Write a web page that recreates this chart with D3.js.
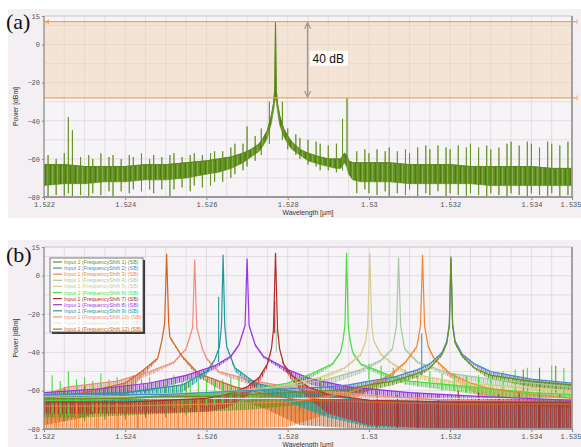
<!DOCTYPE html>
<html><head><meta charset="utf-8">
<script src="https://cdn.jsdelivr.net/npm/d3@7"></script>
<style>body{margin:0;background:#fff}svg{display:block}</style>
</head><body>
<svg id="c" width="581" height="447"></svg>
<script>
// ---------- shared axis data ----------
const xDomain = [1.522, 1.535];
const yDomain = [-80, 15];
const xTickValues = [1.522, 1.524, 1.526, 1.528, 1.530, 1.532, 1.534, 1.535];
const yTickValues = [15, 0, -20, -40, -60, -80];

// ---------- panel (a) ----------
const aBandWl = [1.522,1.5225,1.523,1.5235,1.524,1.5245,1.525,1.5255,1.526,1.5263,1.5266,1.5269,1.5271,1.5273,1.5274,1.5275,1.5276,1.52765,1.52768,1.5277,1.52772,1.52775,1.5278,1.5279,1.528,1.5281,1.5283,1.5285,1.5288,1.529,1.5292,1.5293,1.5294,1.52945,1.5295,1.5296,1.5298,1.530,1.5305,1.531,1.5315,1.532,1.5325,1.533,1.5335,1.534,1.5345,1.535];
const aBandHi = [-63,-63,-64,-64,-64,-63,-63,-62,-61,-60,-59,-57,-55,-52,-49,-45,-37,-31,-24,12,-24,-31,-37,-44,-48,-51,-55,-57,-59,-60,-60,-60,-57,-58,-61,-62,-62,-62,-62,-63,-63,-63,-64,-64,-64,-64,-65,-65];
const aBandLo = [-74,-73,-73,-72,-72,-71,-71,-70,-68,-67,-65,-62,-59,-56,-53,-49,-41,-35,-30,-28,-30,-35,-42,-48,-52,-55,-58,-61,-63,-64,-65,-65,-62,-64,-68,-71,-72,-72,-72,-73,-73,-73,-73,-74,-74,-74,-74,-74];
const aSpikeWl  = [1.5221,1.5223,1.5225,1.5226,1.5227,1.5229,1.5231,1.5232,1.5234,1.5236,1.5237,1.5239,1.5241,1.5242,1.5244,1.5246,1.5247,1.5249,1.5251,1.5252,1.5254,1.5256,1.5257,1.5259,1.5261,1.5262,1.5264,1.5266,1.5267,1.5269,1.5270,1.5272,1.52735,1.52755,1.52787,1.5280,1.5282,1.5283,1.5285,1.5287,1.5288,1.5290,1.5292,1.52935,1.52946,1.5297,1.5299,1.5300,1.5302,1.5304,1.5305,1.5307,1.5309,1.5310,1.5312,1.5314,1.5315,1.5317,1.5319,1.5320,1.5322,1.5324,1.5325,1.5327,1.5329,1.5330,1.5332,1.5334,1.5335,1.5337,1.5339,1.5340,1.5342,1.5344,1.5345,1.5347,1.5349];
const aSpikeTop = [-58,-60,-57,-38,-45,-59,-58,-60,-57,-59,-58,-60,-58,-59,-57,-60,-58,-59,-58,-57,-59,-58,-57,-58,-57,-56,-56,-54,-52,-52,-43,-48,-44,-30,-30,-44,-47,-49,-50,-51,-52,-53,-52,-39,-28,-56,-55,-57,-55,-56,-54,-56,-55,-57,-54,-53,-55,-53,-54,-55,-53,-54,-52,-54,-53,-55,-54,-52,-51,-53,-51,-52,-54,-51,-52,-53,-51];
const aSpikeLow = [-80,-79,-80,-78,-80,-79,-80,-78,-79,-77,-80,-77,-78,-76,-77,-76,-78,-76,-80,-76,-75,-77,-74,-75,-74,-72,-72,-70,-68,-66,-64,-61,-58,-52,-50,-55,-58,-60,-63,-64,-66,-66,-67,-66,-64,-78,-76,-78,-79,-77,-80,-78,-79,-76,-80,-78,-79,-77,-80,-78,-79,-80,-78,-79,-80,-78,-79,-80,-78,-79,-80,-78,-79,-80,-78,-80,-79];
const aRefLevels = [12, -28];          // dBm, orange marker lines
const aDeltaWl = 1.52849;              // where the 40 dB arrow sits
const aDeltaLabel = "40 dB";

// ---------- panel (b) ----------
const bNames = [1,2,3,4,5,6,7,8,9,10,11,12].map(i => `Input 1 (FrequencyShift ${i}) (SB)`);
const bColors = ["#6b8e23","#4b88cc","#f08535","#a6c9a2","#d6cb8c","#47dd3c","#b52a2a","#9b32e6","#22999a","#f48a7c","#e2e2e2","#d2651f"];
// each point: [wavelength µm, upper dBm, lower dBm]
const bS1 = [[1.522,-64,-74],[1.523,-64,-74],[1.524,-64,-73],[1.525,-63,-72],[1.526,-63,-71],[1.527,-62,-70],[1.528,-61,-68],[1.529,-60,-66],[1.5295,-59,-63],[1.530,-57,-60],[1.5306,-55,-57],[1.5312,-51,-53],[1.5315,-48,-49],[1.5318,-41,-42],[1.53192,-35,-36],[1.53198,-26,-27],[1.53202,10,10],[1.53206,-26,-27],[1.53212,-35,-36],[1.5323,-42,-43],[1.5326,-48,-49],[1.5329,-51,-53],[1.533,-52,-54],[1.534,-55,-58],[1.535,-57,-60]];
const bS2 = [[1.522,-62,-70],[1.523,-62,-70],[1.524,-62,-69],[1.525,-62,-68],[1.526,-61,-67],[1.527,-60,-66],[1.528,-59,-64],[1.529,-58,-62],[1.5295,-57,-60],[1.530,-55,-57],[1.5306,-53,-55],[1.5312,-49,-51],[1.5315,-46,-47],[1.5318,-40,-41],[1.53192,-34,-35],[1.53198,-25,-26],[1.53202,9,9],[1.53206,-25,-26],[1.53212,-34,-35],[1.5323,-41,-42],[1.5326,-46,-47],[1.5329,-49,-51],[1.533,-50,-52],[1.534,-54,-56],[1.535,-56,-58]];
const bS3 = [[1.522,-68,-80],[1.524,-68,-80],[1.526,-67,-80],[1.528,-66,-79],[1.529,-63,-72],[1.5295,-61,-66],[1.530,-57,-60],[1.5305,-52,-54],[1.5309,-45,-46],[1.53118,-37,-38],[1.53127,-26,-27],[1.53132,11,11],[1.53137,-26,-27],[1.53146,-37,-38],[1.5316,-43,-44],[1.532,-51,-53],[1.5325,-56,-60],[1.533,-59,-66],[1.534,-62,-72],[1.535,-64,-75]];
const bS4 = [[1.522,-63,-68],[1.524,-62,-67],[1.526,-61,-66],[1.528,-58,-62],[1.529,-54,-57],[1.5298,-49,-51],[1.5303,-44,-45],[1.53058,-38,-39],[1.53068,-26,-27],[1.53073,9.5,9.5],[1.53078,-26,-27],[1.53088,-38,-39],[1.5312,-45,-46],[1.532,-51,-53],[1.533,-54,-57],[1.534,-56,-60],[1.535,-58,-62]];
const bS5 = [[1.522,-64,-70],[1.524,-63,-68],[1.526,-61,-66],[1.527,-60,-64],[1.528,-57,-60],[1.5288,-53,-55],[1.5294,-48,-49],[1.5298,-41,-42],[1.52992,-34,-35],[1.52997,-26,-27],[1.53002,12,12],[1.53007,-26,-27],[1.53012,-34,-35],[1.5303,-41,-42],[1.5306,-46,-47],[1.531,-51,-53],[1.532,-55,-58],[1.533,-57,-61],[1.535,-60,-65]];
const bS6 = [[1.522,-65,-72],[1.523,-65,-72],[1.524,-64,-71],[1.525,-63,-70],[1.526,-62,-69],[1.527,-60,-65],[1.528,-56,-58],[1.5286,-51,-53],[1.5291,-46,-47],[1.5293,-40,-41],[1.52936,-34,-35],[1.52941,-26,-27],[1.52945,12,12],[1.52949,-26,-27],[1.52954,-34,-35],[1.5296,-40,-41],[1.5298,-46,-47],[1.5305,-52,-54],[1.531,-55,-57],[1.532,-57,-60],[1.533,-59,-63],[1.534,-61,-65],[1.535,-62,-67]];
const bS7 = [[1.522,-66,-72],[1.524,-66,-72],[1.526,-64,-71],[1.5265,-62,-69],[1.527,-58,-63],[1.5273,-53,-56],[1.5275,-46,-48],[1.5276,-38,-39],[1.52765,-28,-29],[1.5277,12,12],[1.52775,-28,-29],[1.5278,-38,-39],[1.5279,-46,-48],[1.5281,-52,-55],[1.5285,-58,-64],[1.529,-62,-72],[1.530,-65,-78],[1.532,-66,-80],[1.534,-66,-80],[1.535,-66,-80]];
const bS8 = [[1.522,-61,-65],[1.5234,-59,-63],[1.5246,-56,-60],[1.5255,-52,-55],[1.5262,-47,-49],[1.5266,-42,-43],[1.5268,-36,-37],[1.52695,-26,-27],[1.527,9,9],[1.52705,-26,-27],[1.5272,-36,-37],[1.5274,-42,-43],[1.528,-49,-51],[1.5286,-54,-57],[1.5295,-58,-61],[1.531,-61,-64],[1.5327,-63,-67],[1.535,-65,-69]];
const bS9 = [[1.522,-62,-68],[1.524,-61,-67],[1.5254,-57,-61],[1.526,-50,-52],[1.5262,-44,-45],[1.52632,-37,-38],[1.52637,-26,-27],[1.52641,11,11],[1.52645,-26,-27],[1.5265,-37,-38],[1.5267,-48,-50],[1.5272,-56,-59],[1.528,-60,-66],[1.529,-63,-74],[1.530,-65,-79],[1.532,-66,-80],[1.535,-66,-80]];
const bS10 = [[1.522,-62,-66],[1.5226,-58,-62],[1.5238,-55,-58],[1.5246,-50,-52],[1.5252,-45,-46],[1.5255,-38,-39],[1.52566,-27,-28],[1.52571,8.5,8.5],[1.52576,-27,-28],[1.5259,-38,-39],[1.526,-43,-44],[1.5263,-50,-51],[1.5272,-55,-58],[1.528,-58,-62],[1.5287,-60,-66],[1.5303,-63,-72],[1.532,-65,-74],[1.535,-66,-76]];
const bS11 = [[1.522,-64,-72],[1.528,-64,-72],[1.535,-64,-72]];
const bS12 = [[1.522,-64,-78],[1.523,-61,-74],[1.524,-56,-64],[1.5244,-50,-53],[1.5248,-43,-44],[1.5249,-34,-35],[1.52497,-25,-26],[1.52502,11.5,11.5],[1.52507,-25,-26],[1.5251,-32,-33],[1.5254,-42,-43],[1.5258,-51,-53],[1.5267,-58,-64],[1.5275,-62,-70],[1.5283,-65,-78],[1.530,-66,-80],[1.532,-67,-80],[1.535,-67,-80]];
const bSeries = [bS1,bS2,bS3,bS4,bS5,bS6,bS7,bS8,bS9,bS10,bS11,bS12];
// extra narrow spikes: [series index, wavelength, top dBm, bottom dBm]
const bSpikes = [
 [5,1.5222,-52,-72],[5,1.5224,-55,-72],[5,1.5226,-50,-73],[5,1.5228,-54,-72],[5,1.5230,-53,-72],[5,1.5232,-55,-71],[5,1.5234,-51,-72],[5,1.5236,-54,-71],[5,1.5238,-53,-71],[5,1.5240,-55,-71],[5,1.5242,-52,-70],[5,1.5244,-54,-70],[5,1.5246,-53,-70],[5,1.5248,-55,-70],[5,1.5250,-54,-70],[5,1.5252,-52,-69],[5,1.5254,-55,-69],[5,1.5256,-53,-69],[5,1.5258,-55,-69],[5,1.5260,-54,-68],[5,1.5262,-55,-68],[5,1.5264,-54,-67],[5,1.5266,-53,-66],[5,1.5268,-52,-65],
 [5,1.5300,-46,-54],[5,1.5303,-47,-55],[5,1.5306,-48,-56],[5,1.5309,-49,-57],[5,1.5312,-50,-58],[5,1.5315,-50,-58],[5,1.5318,-51,-60],[5,1.5321,-51,-60],[5,1.5324,-52,-61],[5,1.5327,-52,-62],[5,1.5330,-51,-63],[5,1.5333,-50,-63],[5,1.5336,-49,-64],[5,1.5339,-48,-64],[5,1.5342,-49,-65],[5,1.5345,-47,-65],[5,1.5348,-48,-66],
 [0,1.5225,-58,-76],[0,1.5230,-57,-76],[0,1.5235,-58,-75],[0,1.5240,-57,-75],[0,1.5245,-58,-74],[0,1.5250,-57,-74],[0,1.5255,-56,-73],[0,1.5283,-54,-70],[0,1.5288,-53,-69],[0,1.5338,-49,-60],[0,1.5342,-48,-60],[0,1.5346,-47,-61],
 [6,1.5302,-60,-80],[6,1.5307,-62,-80],[6,1.5312,-61,-80],[6,1.5317,-62,-80],[6,1.5322,-60,-80],[6,1.5327,-61,-80],[6,1.5332,-62,-80],[6,1.5337,-60,-80],[6,1.5342,-61,-80],[6,1.5347,-62,-80],
 [2,1.5223,-64,-80],[2,1.5228,-63,-80],[2,1.5233,-64,-80],[2,1.5238,-63,-80],[2,1.5243,-64,-80],[2,1.5253,-63,-80],[2,1.5258,-62,-80],
 [1,1.5313,-30,-52],[8,1.5263,-11,-45],[6,1.52768,-13,-30],[3,1.52772,-28,-40]
];

// ---------- drawing ----------
const svg = d3.select('#c');
const X0 = 44, X1 = 572;
const x = d3.scaleLinear().domain(xDomain).range([X0, X1]);
const fmtX = d => String(+d.toFixed(3));
const defs = svg.append('defs');

function panel(top, bottom, bgTop, bgBottom, letter, letterY, titleY, id) {
  const y = d3.scaleLinear().domain(yDomain).range([bottom, top]);
  const g = svg.append('g');
  g.append('rect').attr('x', 8).attr('y', bgTop).attr('width', 573).attr('height', bgBottom - bgTop).attr('fill', '#f3eff3');
  g.append('rect').attr('x', X0).attr('y', top).attr('width', X1 - X0).attr('height', bottom - top).attr('fill', '#f7f4f7');
  const gx = d3.range(0, 27).map(i => 1.522 + i * 0.0005);
  const gy = d3.range(-70, 15, 10);
  g.append('g').selectAll('line').data(gx).join('line')
    .attr('x1', d => x(d)).attr('x2', d => x(d)).attr('y1', top).attr('y2', bottom)
    .attr('stroke', '#dcd7dc').attr('stroke-width', 0.8);
  g.append('g').selectAll('line').data(gy).join('line')
    .attr('x1', X0).attr('x2', X1).attr('y1', d => y(d)).attr('y2', d => y(d))
    .attr('stroke', '#dcd7dc').attr('stroke-width', 0.8);
  defs.append('clipPath').attr('id', id).append('rect')
    .attr('x', X0).attr('y', top - 1).attr('width', X1 - X0).attr('height', bottom - top + 1);
  const plot = svg.append('g').attr('clip-path', `url(#${id})`);
  svg.append('text').attr('x', 6).attr('y', letterY).attr('font-family', 'Liberation Serif, Times New Roman, serif')
    .attr('font-size', 22).attr('fill', '#111').text(letter);
  return { y, g, plot, top, bottom, titleY };
}

function finishAxes(p) {
  const { y, top, bottom, titleY } = p;
  const ax = svg.append('g').attr('transform', `translate(0,${bottom})`)
    .call(d3.axisBottom(x).tickValues(xTickValues).tickFormat(fmtX).tickSize(3).tickPadding(2));
  ax.select('.domain').remove();
  ax.selectAll('line').attr('stroke', '#888');
  ax.selectAll('text').attr('font-family', 'Liberation Mono, monospace').attr('font-size', 7).attr('fill', '#555');
  ax.selectAll('text').filter(d => d === xDomain[1]).attr('text-anchor', 'end').attr('dx', 9);
  const ay = svg.append('g').attr('transform', `translate(${X0},0)`)
    .call(d3.axisLeft(y).tickValues(yTickValues).tickSize(2).tickPadding(2));
  ay.select('.domain').remove();
  ay.selectAll('line').attr('stroke', '#888');
  ay.selectAll('text').attr('font-family', 'Liberation Mono, monospace').attr('font-size', 7).attr('fill', '#555');
  svg.append('line').attr('x1', X0).attr('x2', X1).attr('y1', top).attr('y2', top).attr('stroke', '#c8c4c8').attr('stroke-width', 1);
  svg.append('line').attr('x1', X1).attr('x2', X1).attr('y1', top).attr('y2', bottom).attr('stroke', '#9a9a9a').attr('stroke-width', 1.8);
  svg.append('line').attr('x1', X0).attr('x2', X1).attr('y1', bottom).attr('y2', bottom).attr('stroke', '#9a9a9a').attr('stroke-width', 1.8);
  svg.append('line').attr('x1', X0).attr('x2', X0).attr('y1', top).attr('y2', bottom).attr('stroke', '#8a8a8a').attr('stroke-width', 1.2);
  svg.append('text').attr('x', (X0 + X1) / 2).attr('y', titleY).attr('text-anchor', 'middle')
    .attr('font-family', 'Liberation Sans, Arial, sans-serif').attr('font-size', 6.8).attr('fill', '#333').text('Wavelength [µm]');
  svg.append('text').attr('transform', `translate(18,${(top + bottom) / 2}) rotate(-90)`).attr('text-anchor', 'middle')
    .attr('font-family', 'Liberation Sans, Arial, sans-serif').attr('font-size', 6.8).attr('fill', '#333').text('Power [dBm]');
}

// ===== panel (a) =====
const pa = panel(16, 197, 9, 218, '(a)', 29, 215, 'clipA');
{
  const { y, plot } = pa;
  plot.append('rect').attr('x', X0).attr('width', X1 - X0)
    .attr('y', y(aRefLevels[0])).attr('height', y(aRefLevels[1]) - y(aRefLevels[0]))
    .attr('fill', '#f2d3b4').attr('opacity', 0.5);
  const pat = defs.append('pattern').attr('id', 'pgA').attr('patternUnits', 'userSpaceOnUse').attr('width', 5).attr('height', 4);
  pat.append('rect').attr('width', 5).attr('height', 4).attr('fill', '#679626');
  pat.append('rect').attr('x', 0).attr('width', 1.1).attr('height', 4).attr('fill', '#4e7c12');
  pat.append('rect').attr('x', 2.4).attr('width', 0.8).attr('height', 4).attr('fill', '#98bd60');
  pat.append('rect').attr('x', 3.6).attr('width', 0.7).attr('height', 4).attr('fill', '#557f18');
  const band = aBandWl.map((w, i) => [w, aBandHi[i], aBandLo[i]]);
  const spikes = aSpikeWl.map((w, i) => [w, aSpikeTop[i], aSpikeLow[i]]);
  plot.append('g').selectAll('line').data(spikes).join('line')
    .attr('x1', d => x(d[0])).attr('x2', d => x(d[0])).attr('y1', d => y(d[1])).attr('y2', d => y(d[2]))
    .attr('stroke', '#7aa43a').attr('stroke-width', 1.1);
  plot.append('path').datum(band)
    .attr('d', d3.area().x(d => x(d[0])).y0(d => y(d[2])).y1(d => y(d[1])))
    .attr('fill', 'url(#pgA)').attr('stroke', '#5b8a1c').attr('stroke-width', 0.6);
  plot.append('path').datum(band)
    .attr('d', d3.line().x(d => x(d[0])).y(d => y(d[1])))
    .attr('fill', 'none').attr('stroke', '#5b8a1c').attr('stroke-width', 1);
  plot.append('g').selectAll('line').data(spikes).join('line')
    .attr('x1', d => x(d[0])).attr('x2', d => x(d[0])).attr('y1', d => y(d[1])).attr('y2', d => y(d[2]))
    .attr('stroke', '#5f8d1d').attr('stroke-width', 0.9).attr('opacity', 0.8);
  svg.append('g').selectAll('line').data(aRefLevels).join('line')
    .attr('x1', X0).attr('x2', X1 + 5).attr('y1', d => y(d)).attr('y2', d => y(d))
    .attr('stroke', '#f5a552').attr('stroke-width', 1.3);
  svg.append('g').selectAll('line').data(aRefLevels).join('line')
    .attr('x1', X1 + 5).attr('x2', X1 + 5).attr('y1', d => y(d) - 2.5).attr('y2', d => y(d) + 2.5)
    .attr('stroke', '#f5b070').attr('stroke-width', 1);
  svg.append('path').attr('d', `M${X0 + 1},${y(aRefLevels[0])}l4,-2.5v5z`).attr('fill', '#f5a552');
  defs.append('marker').attr('id', 'ah').attr('viewBox', '0 0 10 10').attr('refX', 9).attr('refY', 5)
    .attr('markerWidth', 5).attr('markerHeight', 5).attr('orient', 'auto-start-reverse')
    .append('path').attr('d', 'M1,1L9,5L1,9').attr('fill', 'none').attr('stroke', '#999').attr('stroke-width', 1.6);
  svg.append('line').attr('x1', x(aDeltaWl)).attr('x2', x(aDeltaWl))
    .attr('y1', y(aRefLevels[0]) + 1).attr('y2', y(aRefLevels[1]) - 1)
    .attr('stroke', '#9a9a9a').attr('stroke-width', 1.5)
    .attr('marker-start', 'url(#ah)').attr('marker-end', 'url(#ah)');
  const ly = (y(aRefLevels[0]) + y(aRefLevels[1])) / 2 - 1;
  svg.append('rect').attr('x', x(aDeltaWl) + 2.5).attr('y', ly - 8).attr('width', 38).attr('height', 15).attr('fill', '#fdfbf9');
  svg.append('text').attr('x', x(aDeltaWl) + 5).attr('y', ly + 4).attr('font-family', 'Liberation Sans, Arial, sans-serif')
    .attr('font-size', 12).attr('fill', '#111').text(aDeltaLabel);
}
finishAxes(pa);

// ===== panel (b) =====
const pb = panel(247, 429, 240, 447, '(b)', 262, 447, 'clipB');
{
  const { y, plot } = pb;
  bColors.forEach((c, i) => {
    const pat = defs.append('pattern').attr('id', 'np' + i).attr('patternUnits', 'userSpaceOnUse')
      .attr('width', 4).attr('height', 6).attr('x', i % 4);
    pat.append('rect').attr('x', 0).attr('y', 0).attr('width', 4).attr('height', 6).attr('fill', c).attr('opacity', 0.3);
    pat.append('rect').attr('x', 0).attr('y', 0).attr('width', 1.2).attr('height', 6).attr('fill', c);
    pat.append('rect').attr('x', 2.2).attr('y', 0).attr('width', 0.7).attr('height', 6).attr('fill', c).attr('opacity', 0.7);
  });
  const bandOrder = [10, 2, 11, 3, 4, 1, 0, 5, 9, 7, 8, 6];
  const area = d3.area().x(d => x(d[0])).y0(d => y(d[2])).y1(d => y(d[1]));
  const line = d3.line().x(d => x(d[0])).y(d => y(d[1]));
  bandOrder.forEach(i => {
    plot.append('path').datum(bSeries[i]).attr('d', area)
      .attr('fill', `url(#np${i})`).attr('opacity', 0.9);
  });
  plot.append('g').selectAll('line').data(bSpikes).join('line')
    .attr('x1', d => x(d[1])).attr('x2', d => x(d[1])).attr('y1', d => y(d[2])).attr('y2', d => y(d[3]))
    .attr('stroke', d => bColors[d[0]]).attr('stroke-width', 1.1);
  const lineOrder = [10, 9, 11, 8, 7, 6, 5, 4, 3, 2, 1, 0];
  lineOrder.forEach(i => {
    plot.append('path').datum(bSeries[i]).attr('d', line)
      .attr('fill', 'none').attr('stroke', bColors[i]).attr('stroke-width', 1.2);
  });
  const lx = 50, ly = 258, lw = 93, lh = 74;
  svg.append('rect').attr('x', lx + 2).attr('y', ly + 2).attr('width', lw).attr('height', lh).attr('fill', '#3a3a3a');
  svg.append('rect').attr('x', lx).attr('y', ly).attr('width', lw).attr('height', lh).attr('fill', '#fefefe')
    .attr('stroke', '#555').attr('stroke-width', 0.8);
  const lg = svg.append('g').selectAll('g').data(bNames).join('g')
    .attr('transform', (d, i) => `translate(${lx + 3},${ly + 4 + i * 6.1})`);
  lg.append('line').attr('x1', 0).attr('x2', 9).attr('y1', 0).attr('y2', 0)
    .attr('stroke', (d, i) => bColors[i]).attr('stroke-width', 1.2);
  lg.append('text').attr('x', 11).attr('y', 2).attr('font-family', 'Liberation Sans, Arial, sans-serif')
    .attr('font-size', 5.4).attr('fill', (d, i) => bColors[i]).text(d => d);
}
finishAxes(pb);
</script>
</body></html>
